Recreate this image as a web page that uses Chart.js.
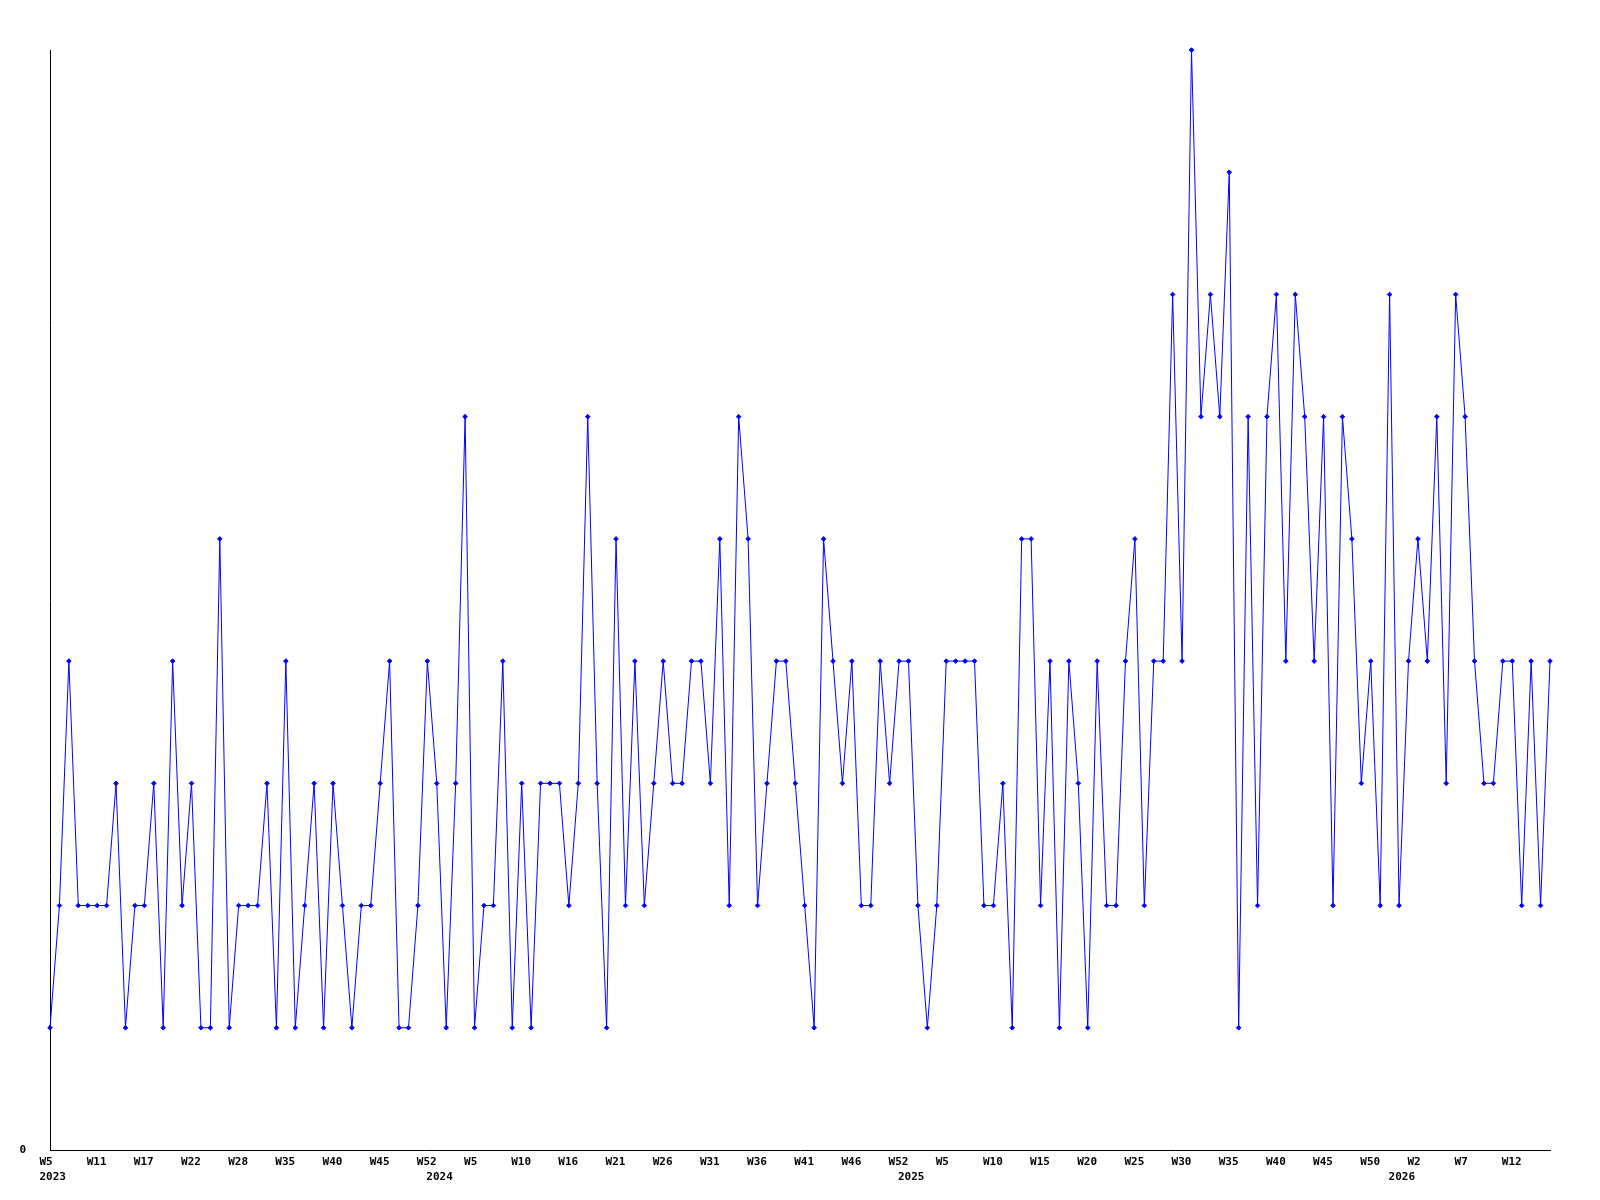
<!DOCTYPE html>
<html><head><meta charset="utf-8">
<script src="https://cdn.jsdelivr.net/npm/chart.js@4.4.1/dist/chart.umd.min.js"></script>
<style>html,body{margin:0;padding:0;background:#fff;} canvas{display:block;}</style>
</head><body>
<canvas id="c" width="1600" height="1200"></canvas>
<script>
// Week numbers of each data point, grouped by year
const weeks2023 = [5,6,7,8,9,11,12,13,14,16,17,18,19,20,21,22,23,24,25,27,28,29,30,32,34,35,36,37,38,39,40,41,42,43,44,45,46,48,49,51,52];
const weeks2024 = [1,2,3,4,5,6,7,8,9,10,11,12,13,15,16,17,18,19,20,21,22,23,24,25,26,27,28,29,30,31,32,33,34,35,36,37,38,39,40,41,42,43,44,45,46,47,48,50,51,52];
const weeks2025 = [1,2,3,4,5,6,7,8,9,10,11,12,13,14,15,16,17,18,19,20,21,22,23,24,25,26,27,28,29,30,31,32,33,34,35,36,37,38,39,40,41,42,43,44,45,46,47,48,49,50,51,52];
const weeks2026 = [0,1,2,3,4,5,6,7,8,9,10,11,12,13,14,15,16];
const years = [2023, 2024, 2025, 2026];

// Series values
const values = [
  1,2,4,2,2,2,2,3,1,2,2,3,1,4,2,3,1,1,5,1,2,
  2,2,3,1,4,1,2,3,1,3,2,1,2,2,3,4,1,1,2,
  4,3,1,3,6,1,2,2,4,1,3,1,3,3,3,2,3,6,3,1,5,2,4,2,3,4,3,3,4,4,3,5,2,6,5,2,3,4,4,3,2,1,5,4,
  3,4,2,2,4,3,4,4,2,1,2,4,4,4,4,2,2,3,1,5,5,2,4,1,4,3,1,4,2,2,4,5,2,4,4,7,4,9,6,7,6,8,1,
  6,2,6,7,4,7,6,4,6,2,6,5,3,4,2,7,2,4,5,4,6,3,7,6,4,3,3,4,4,2,4,2,4
];

const yMin = 0, yMax = 9;
const yTickLabels = {0: '0'};
const labelEvery = 5;

// Build categories from the arrays above
const weekGroups = [weeks2023, weeks2024, weeks2025, weeks2026];
const pointYear = [], pointWeek = [], categories = [];
weekGroups.forEach((ws, gi) => ws.forEach(w => {
  pointYear.push(years[gi]); pointWeek.push(w); categories.push(years[gi] + ' W' + w);
}));

const tickFont = {family: "'DejaVu Sans Mono', 'Liberation Mono', monospace", size: 11, weight: 'bold', lineHeight: '15px'};

new Chart(document.getElementById('c'), {
  type: 'line',
  data: {
    labels: categories,
    datasets: [{
      data: values,
      borderColor: '#0000ff',
      backgroundColor: '#0000ff',
      borderWidth: 1,
      tension: 0,
      pointStyle: 'rectRot',
      pointRadius: 2.3,
      pointBorderWidth: 1,
      pointBackgroundColor: '#0000ff',
      pointBorderColor: '#0000ff',
      clip: false
    }]
  },
  options: {
    responsive: false,
    animation: false,
    events: [],
    layout: {padding: {top: 50, right: 50, left: 0, bottom: 0}},
    plugins: {legend: {display: false}, tooltip: {enabled: false}},
    scales: {
      x: {
        type: 'category',
        offset: false,
        grid: {display: false, drawTicks: false},
        border: {display: true, color: '#000', width: 1},
        ticks: {
          autoSkip: false,
          maxRotation: 0,
          minRotation: 0,
          align: 'start',
          labelOffset: -10.5,
          padding: 5,
          color: '#000',
          font: tickFont,
          callback: function(value, index) {
            const showWeek = index % labelEvery === 0;
            const showYear = index === 0 || pointYear[index] !== pointYear[index - 1];
            if (!showWeek && !showYear) return '';
            return [showWeek ? 'W' + pointWeek[index] : '', showYear ? String(pointYear[index]) : ''];
          }
        },
        afterFit: s => { s.height = 50; }
      },
      y: {
        min: yMin, max: yMax,
        grid: {display: false, drawTicks: false},
        border: {display: true, color: '#000', width: 1},
        ticks: {
          stepSize: 1,
          padding: 24,
          color: '#000',
          font: tickFont,
          callback: v => (yTickLabels[v] !== undefined ? yTickLabels[v] : '')
        },
        afterFit: s => { s.width = 50; }
      }
    }
  }
});
</script>
</body></html>
